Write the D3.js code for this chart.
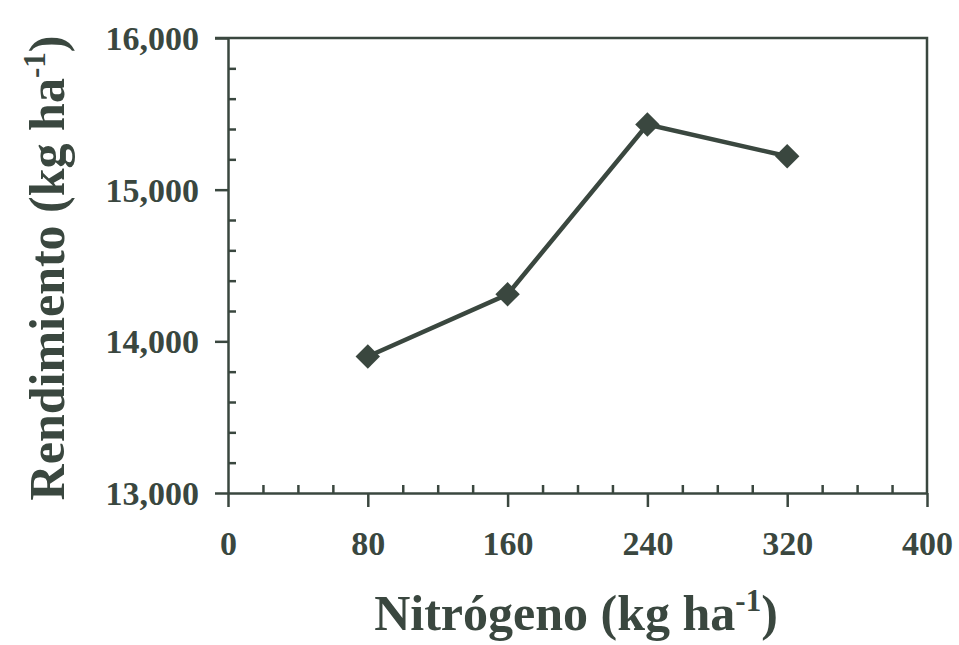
<!DOCTYPE html>
<html>
<head>
<meta charset="utf-8">
<script src="https://cdn.jsdelivr.net/npm/d3@7/dist/d3.min.js"></script>
<style>
  body { margin: 0; background: #fff; }
  text { font-family: "Liberation Serif", "Times New Roman", serif; font-weight: bold; fill: #3a473f; }
</style>
</head>
<body>
<div id="chart"></div>
<script>
// Data
var nitrogen = [80, 160, 240, 320];
var yieldKg = [13900, 14310, 15430, 15220];
var xTicks = [0, 80, 160, 240, 320, 400];
var yTicks = [13000, 14000, 15000, 16000];

var w = 959, h = 645;
var margin = {top: 38, right: 32, bottom: 152, left: 228};
var ink = "#3a473f";

var x = d3.scaleLinear().domain([0, 400]).range([margin.left, w - margin.right]);
var y = d3.scaleLinear().domain([13000, 16000]).range([h - margin.bottom, margin.top]);

var svg = d3.select("#chart").append("svg")
    .attr("width", w)
    .attr("height", h);

// minor ticks (inside)
var xMinor = d3.range(0, 401, 20).filter(function(d) { return xTicks.indexOf(d) < 0; });
var yMinor = d3.range(13000, 16001, 200).filter(function(d) { return yTicks.indexOf(d) < 0; });

svg.append("g")
    .attr("transform", "translate(0," + y(13000) + ")")
    .call(d3.axisTop(x).tickValues(xMinor).tickSize(8).tickFormat(""))
    .call(function(g) { g.select(".domain").remove(); });

svg.append("g")
    .attr("transform", "translate(" + x(0) + ",0)")
    .call(d3.axisRight(y).tickValues(yMinor).tickSize(8).tickFormat(""))
    .call(function(g) { g.select(".domain").remove(); });

// major axes (ticks outward)
var xAxis = svg.append("g")
    .attr("transform", "translate(0," + y(13000) + ")")
    .call(d3.axisBottom(x).tickValues(xTicks).tickSize(14).tickSizeOuter(0).tickPadding(22).tickFormat(d3.format("d")));

var yAxis = svg.append("g")
    .attr("transform", "translate(" + x(0) + ",0)")
    .call(d3.axisLeft(y).tickValues(yTicks).tickSize(13).tickSizeOuter(0).tickPadding(16).tickFormat(d3.format(",")));

svg.selectAll(".tick line").attr("stroke", ink).attr("stroke-width", 2.5);
svg.selectAll(".domain").attr("stroke", ink).attr("stroke-width", 2.5);
xAxis.selectAll("text").style("font-size", "34px").attr("dy", "0.75em");
yAxis.selectAll("text").style("font-size", "34px").attr("dy", "0.34em");

// top and right borders
svg.append("path")
    .attr("d", "M" + (x(0) - 13) + "," + y(16000) + "H" + x(400) + "V" + y(13000))
    .attr("fill", "none")
    .attr("stroke", ink)
    .attr("stroke-width", 2.5);

// line and markers
var pts = nitrogen.map(function(d, i) { return [d, yieldKg[i]]; });

svg.append("path")
    .datum(pts)
    .attr("fill", "none")
    .attr("stroke", ink)
    .attr("stroke-width", 4.5)
    .attr("d", d3.line().x(function(d) { return x(d[0]); }).y(function(d) { return y(d[1]); }));

svg.selectAll(".pt")
    .data(pts)
    .enter()
    .append("path")
    .attr("class", "pt")
    .attr("transform", function(d) { return "translate(" + x(d[0]) + "," + y(d[1]) + ")"; })
    .attr("d", d3.symbol().type(d3.symbolDiamond2).size(380))
    .attr("fill", ink);

// axis titles
var xt = svg.append("text")
    .attr("x", 576)
    .attr("y", 630)
    .attr("text-anchor", "middle")
    .style("font-size", "50px");
xt.append("tspan").text("Nitrógeno (kg ha");
xt.append("tspan").attr("dy", -19).style("font-size", "31px").text("-1");
xt.append("tspan").attr("dy", 19).text(")");

var yt = svg.append("text")
    .attr("transform", "translate(64," + 268 + ") rotate(-90)")
    .attr("text-anchor", "middle")
    .style("font-size", "50px");
yt.append("tspan").text("Rendimiento (kg ha");
yt.append("tspan").attr("dy", -19).style("font-size", "31px").text("-1");
yt.append("tspan").attr("dy", 19).text(")");
</script>
</body>
</html>
